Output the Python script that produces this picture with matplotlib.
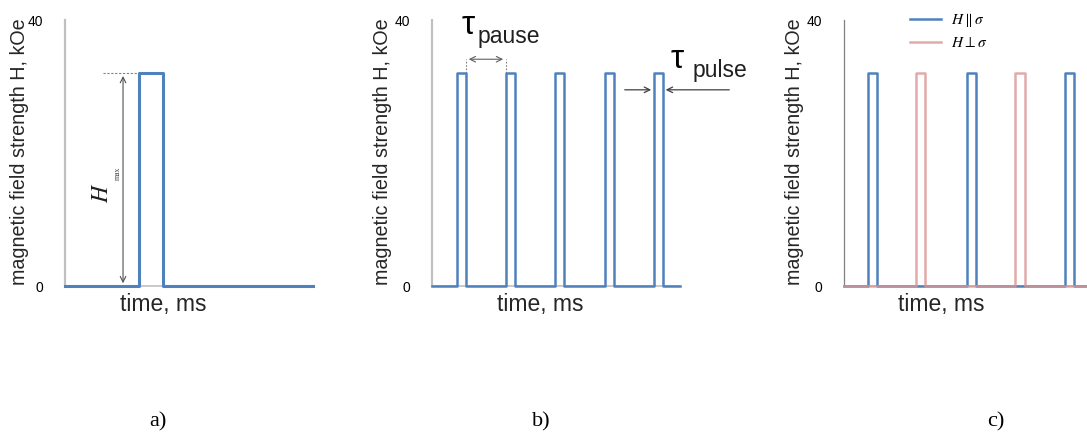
import matplotlib
matplotlib.use('Agg')
import matplotlib.pyplot as plt

plt.rcParams['font.family'] = ['Liberation Sans', 'DejaVu Sans']
plt.rcParams['mathtext.fontset'] = 'stix'

# data (time in arbitrary units 0..100, field in kOe)
t_end = 100
h_max = 32
y_ticks = [0, 40]

single_start = [30.0]
single_width = 9.7

train_start = [10.1, 29.8, 49.6, 69.8, 89.5]
train_width = 3.6

par_start = [9.7, 49.6, 89.1]
perp_start = [29.0, 69.0]
alt_width = 3.8

blue = '#4f81bd'
pink = '#d99694'
W, H = 1087, 434


def waveform(starts, width, height, t_end):
    t = [0]
    h = [0]
    for s in starts:
        t += [s, s, s + width, s + width]
        h += [0, height, height, 0]
    t.append(t_end)
    h.append(0)
    return t, h


def fx(x):
    return x / W


def fy(y):
    return 1 - y / H


fig = plt.figure(figsize=(W / 100, H / 100), dpi=100)

ax_w = 248 / W
ax_h = 266 / H
lefts = [65, 432, 844]
axes = [fig.add_axes([fx(l), fy(286), ax_w, ax_h]) for l in lefts]

for i, ax in enumerate(axes):
    ax.set_xlim(0, t_end)
    ax.set_ylim(0, 40)
    ax.set_yticks(y_ticks)
    ax.set_xticks([])
    ax.tick_params(axis='y', length=0, pad=16, labelsize=10)
    for s in ['top', 'right']:
        ax.spines[s].set_visible(False)
    sc = '#808080' if i == 2 else '#c0c0c0'
    lw = 0.9 if i == 2 else 1.6
    ax.spines['left'].set_color(sc)
    ax.spines['left'].set_linewidth(lw)
    ax.spines['bottom'].set_color('#c0c0c0')
    ax.spines['bottom'].set_linewidth(1.2)

# a) single pulse
ax = axes[0]
t, h = waveform(single_start, single_width, h_max, t_end)
ax.plot(t, h, color=blue, lw=2.2, clip_on=False, zorder=3)
ax.plot([15.3, single_start[0]], [h_max, h_max], color='#808080', lw=0.8, ls=(0, (2, 1.5)))
ax.annotate('', xy=(23.4, h_max), xytext=(23.4, 0),
            arrowprops=dict(arrowstyle='<->', color='#505050', lw=0.8))
ax.text(15.0, 14.0, '$H$', rotation=90, fontsize=17, ha='center', va='center', color='#202020')
ax.text(21.3, 17.0, 'max', rotation=90, fontsize=5.5, ha='center', va='center',
        family='Liberation Serif', color='#404040')

# b) pulse train
ax = axes[1]
t, h = waveform(train_start, train_width, h_max, t_end)
ax.plot(t, h, color=blue, lw=1.8, clip_on=False, zorder=3)
p1_end = train_start[0] + train_width
ax.annotate('', xy=(train_start[1], 34.1), xytext=(p1_end, 34.1),
            arrowprops=dict(arrowstyle='<->', color='#606060', lw=0.8))
for xv in [p1_end, train_start[1]]:
    ax.plot([xv, xv], [h_max, 34.1], color='#808080', lw=0.8, ls=(0, (1.5, 1.5)))
ax.text(14.5, 39.2, '\u03c4', fontsize=24, ha='center', va='center', clip_on=False)
ax.text(18.5, 36.5, 'pause', fontsize=16.5, ha='left', va='baseline', clip_on=False, color='#202020')
last = train_start[-1]
ax.annotate('', xy=(last, 29.5), xytext=(76.6, 29.5),
            arrowprops=dict(arrowstyle='->', color='#404040', lw=0.9))
ax.annotate('', xy=(last + train_width, 29.5), xytext=(121, 29.5), annotation_clip=False,
            arrowprops=dict(arrowstyle='->', color='#404040', lw=0.9))
ax.text(98.8, 34.0, '\u03c4', fontsize=24, ha='center', va='center', clip_on=False)
ax.text(105.2, 31.4, 'pulse', fontsize=16.5, ha='left', va='baseline', clip_on=False, color='#202020')

# c) alternating directions
ax = axes[2]
t, h = waveform(par_start, alt_width, h_max, t_end)
ax.plot(t, h, color=blue, lw=1.8, clip_on=False, zorder=3, label=r'$H\parallel\sigma$')
t, h = waveform(perp_start, alt_width, h_max, t_end)
ax.plot(t, h, color=pink, lw=1.8, alpha=0.8, clip_on=False, zorder=3, label=r'$H\perp\sigma$')
ax.legend(loc='upper left', bbox_to_anchor=((910 - 844) / 248, (286 - 11) / 266),
          frameon=False, fontsize=11, handlelength=2.0, handletextpad=0.7,
          labelspacing=0.45, borderaxespad=0, borderpad=0)

# axis labels as placed text
ylab = 'magnetic field strength H, kOe'
for x in [20, 382, 794]:
    fig.text(fx(x), fy(152), ylab, rotation=90, fontsize=14.2, ha='center', va='center', color='#262626')
for x in [163, 540, 941]:
    fig.text(fx(x), fy(305), 'time, ms', fontsize=16.5, ha='center', va='center', color='#262626')
for x, lab in zip([158, 541, 996], ['a)', 'b)', 'c)']):
    fig.text(fx(x), fy(422), lab, fontsize=16, ha='center', va='center', family='Liberation Serif')

fig.savefig('out.png', dpi=100)
